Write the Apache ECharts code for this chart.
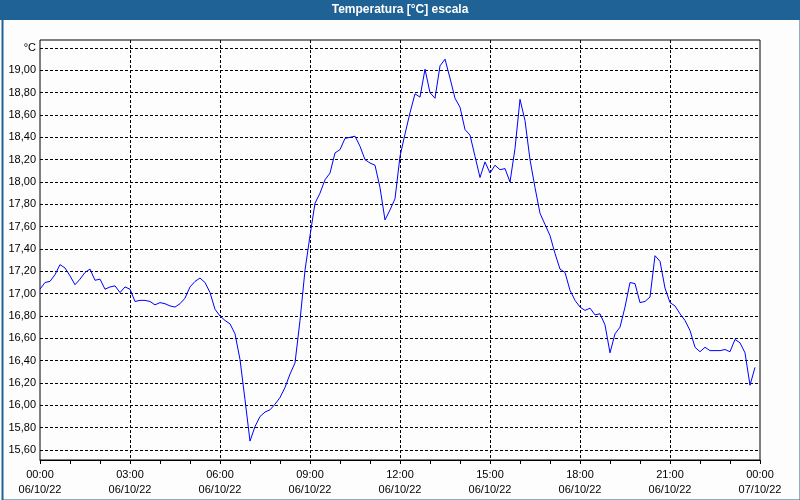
<!DOCTYPE html>
<html>
<head>
<meta charset="utf-8">
<script src="https://cdn.jsdelivr.net/npm/echarts@6/dist/echarts.min.js"></script>
<style>html,body{margin:0;padding:0;background:#fcfdfc;}#c{width:800px;height:500px;}</style>
</head>
<body>
<div id="c"></div>
<script>
// Data (10-minute readings, 06/10/22)
const times = [
 '00:00','00:10','00:20','00:30','00:40','00:50','01:00','01:10','01:20','01:30','01:40','01:50',
 '02:00','02:10','02:20','02:30','02:40','02:50','03:00','03:10','03:20','03:30','03:40','03:50',
 '04:00','04:10','04:20','04:30','04:40','04:50','05:00','05:10','05:20','05:30','05:40','05:50',
 '06:00','06:10','06:20','06:30','06:40','06:50','07:00','07:10','07:20','07:30','07:40','07:50',
 '08:00','08:10','08:20','08:30','08:40','08:50','09:00','09:10','09:20','09:30','09:40','09:50',
 '10:00','10:10','10:20','10:30','10:40','10:50','11:00','11:10','11:20','11:30','11:40','11:50',
 '12:00','12:10','12:20','12:30','12:40','12:50','13:00','13:10','13:20','13:30','13:40','13:50',
 '14:00','14:10','14:20','14:30','14:40','14:50','15:00','15:10','15:20','15:30','15:40','15:50',
 '16:00','16:10','16:20','16:30','16:40','16:50','17:00','17:10','17:20','17:30','17:40','17:50',
 '18:00','18:10','18:20','18:30','18:40','18:50','19:00','19:10','19:20','19:30','19:40','19:50',
 '20:00','20:10','20:20','20:30','20:40','20:50','21:00','21:10','21:20','21:30','21:40','21:50',
 '22:00','22:10','22:20','22:30','22:40','22:50','23:00','23:10','23:20','23:30','23:40','23:50'
];
const temps = [
 17.04,17.10,17.11,17.17,17.26,17.23,17.16,17.08,17.13,17.19,17.22,17.12,
 17.13,17.04,17.06,17.07,17.01,17.06,17.04,16.93,16.94,16.94,16.93,16.90,
 16.92,16.91,16.89,16.88,16.91,16.96,17.06,17.11,17.14,17.10,17.01,16.86,
 16.80,16.76,16.73,16.64,16.41,16.05,15.68,15.81,15.90,15.94,15.96,16.01,
 16.07,16.16,16.28,16.38,16.76,17.21,17.52,17.81,17.90,18.02,18.08,18.26,
 18.29,18.39,18.40,18.41,18.32,18.20,18.17,18.15,17.95,17.66,17.75,17.85,
 18.23,18.43,18.62,18.79,18.76,19.01,18.80,18.75,19.04,19.10,18.93,18.75,
 18.67,18.47,18.42,18.23,18.04,18.18,18.08,18.15,18.11,18.12,18.00,18.30,
 18.74,18.55,18.20,17.95,17.72,17.62,17.52,17.36,17.22,17.19,17.03,16.94,
 16.88,16.85,16.87,16.81,16.82,16.72,16.47,16.64,16.70,16.88,17.10,17.09,
 16.92,16.93,16.97,17.34,17.29,17.05,16.92,16.89,16.82,16.76,16.67,16.52,
 16.48,16.52,16.49,16.49,16.49,16.50,16.48,16.59,16.56,16.47,16.18,16.34
];
const xTickLabels = ['00:00\n06/10/22','03:00\n06/10/22','06:00\n06/10/22','09:00\n06/10/22',
 '12:00\n06/10/22','15:00\n06/10/22','18:00\n06/10/22','21:00\n06/10/22','00:00\n07/10/22'];
const yUnit = '°C';
const titleText = 'Temperatura [°C] escala';

function toMin(s){ const p = s.split(':'); return (+p[0])*60 + (+p[1]); }
const seriesData = times.map((t,i)=>[toMin(t), temps[i]]);

const chart = echarts.init(document.getElementById('c'), null, {renderer:'canvas'});
const font = 'Liberation Sans, Arial, sans-serif';
chart.setOption({
  animation: false,
  backgroundColor: '#fcfdfc',
  graphic: [
    {type:'rect', left:0, top:0, shape:{width:800, height:20}, style:{fill:'#1e6296'}, z:10},
    {type:'rect', left:0, top:0, shape:{x:1,y:1,width:798,height:498}, style:{fill:'none', stroke:'#1e6296', lineWidth:2}, z:10},
    {type:'text', left:'center', top:4, style:{text:titleText, fill:'#ffffff', font:'bold 12px ' + font}, z:11}
  ],
  grid: [
    {left:40, right:40, top:40, bottom:40, show:true, borderColor:'#000', borderWidth:1, backgroundColor:'transparent'},
    {left:40, right:40, top:48, bottom:50}
  ],
  xAxis: [
    {gridIndex:0, type:'value', min:0, max:1440, interval:180,
     axisLine:{show:true, lineStyle:{color:'#000', width:1}},
     axisTick:{show:true, inside:false, length:4, lineStyle:{color:'#000'}},
     minorTick:{show:true, splitNumber:3, length:4, lineStyle:{color:'#000'}},
     splitLine:{show:true, showMinLine:false, showMaxLine:false, lineStyle:{color:'#000', type:[3,2], width:1}},
     axisLabel:{margin:7, color:'#000', fontFamily:font, fontSize:11, lineHeight:15,
       formatter:(v)=>xTickLabels[Math.round(v/180)] }},
    {gridIndex:1, type:'value', min:0, max:1440, show:false}
  ],
  yAxis: [
    {gridIndex:0, type:'value', min:0, max:1, show:false, splitLine:{show:false}},
    {gridIndex:1, type:'value', min:15.6, max:19.2, interval:0.2,
     axisLine:{show:false}, axisTick:{show:false},
     splitLine:{show:true, lineStyle:{color:'#000', type:[3,2], width:1}},
     axisLabel:{margin:4, color:'#000', fontFamily:font, fontSize:11,
       formatter:(v)=> v > 19.15 ? yUnit : v.toFixed(2).replace('.', ',') }}
  ],
  series: [{
    type:'line', xAxisIndex:1, yAxisIndex:1, data:seriesData,
    showSymbol:false, symbol:'none', lineStyle:{color:'#0000ff', width:1}, z:5
  }]
});
</script>
</body>
</html>
